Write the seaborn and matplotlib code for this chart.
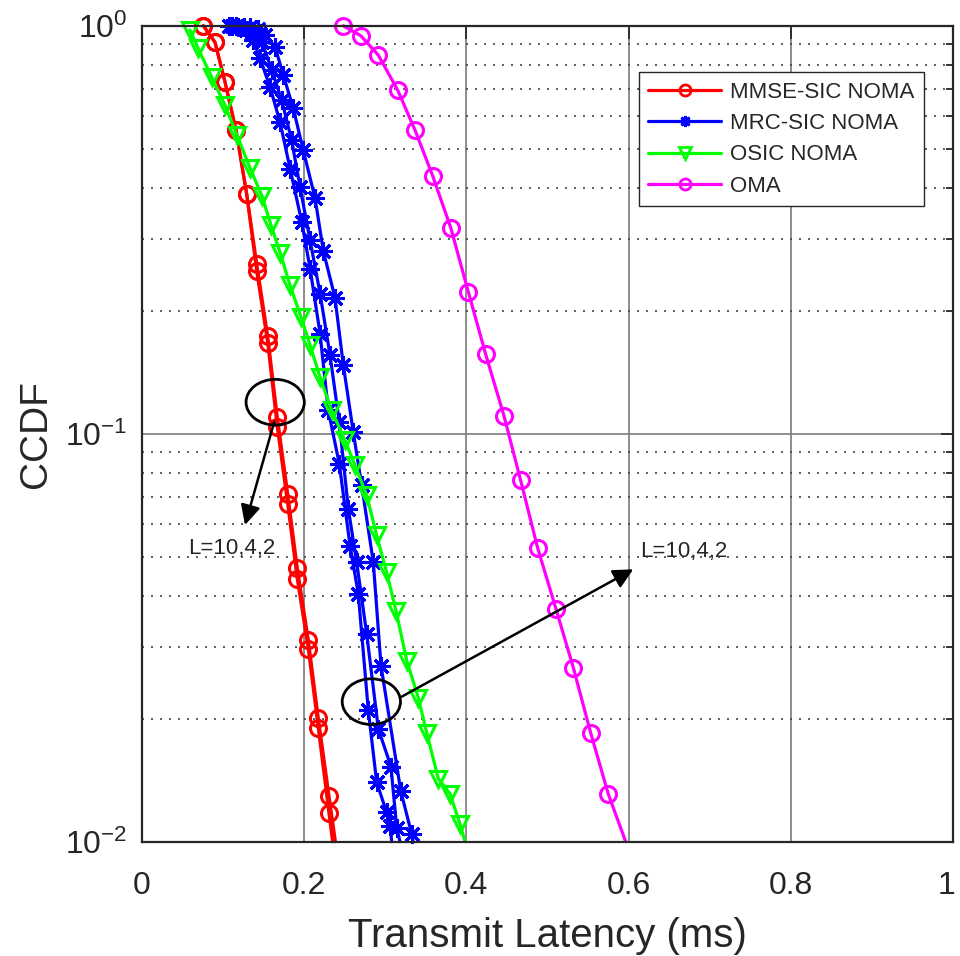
import matplotlib
matplotlib.use("Agg")
import matplotlib.pyplot as plt
import matplotlib.transforms as mtransforms
import seaborn as sns
from matplotlib.lines import Line2D
from matplotlib.patches import Ellipse
from matplotlib.ticker import LogLocator, FixedLocator

# MMSE-SIC NOMA (red), curves nearly overlap for L=10,4,2
mmse_x_a = [0.0759, 0.0903, 0.1026, 0.1162, 0.1294, 0.1417, 0.1553, 0.1671, 0.1799, 0.1917, 0.2053, 0.2176, 0.2308, 0.2387]
mmse_y_a = [1.0, 0.911, 0.729, 0.555, 0.3865, 0.2613, 0.1733, 0.1098, 0.0713, 0.0469, 0.03124, 0.0201, 0.01296, 0.01]
mmse_x_b = [0.0759, 0.0903, 0.1026, 0.1162, 0.1294, 0.1417, 0.1553, 0.1671, 0.1799, 0.1917, 0.2053, 0.2176, 0.2308, 0.2353]
mmse_y_b = [1.0, 0.911, 0.729, 0.555, 0.3865, 0.2506, 0.1669, 0.1038, 0.0673, 0.0441, 0.02969, 0.0190, 0.01173, 0.01]

# MRC-SIC NOMA (blue), L=10,4,2
mrc_x_a = [0.1076, 0.1187, 0.1285, 0.1372, 0.1458, 0.1581, 0.1704, 0.1828, 0.1972, 0.2075, 0.2198, 0.2299, 0.2435, 0.2567, 0.2669, 0.2792, 0.2896, 0.3019, 0.3060, 0.3081]
mrc_y_a = [1.0, 0.993, 0.976, 0.922, 0.832, 0.708, 0.581, 0.4467, 0.3305, 0.254, 0.1759, 0.1141, 0.0844, 0.0532, 0.0405, 0.02103, 0.01397, 0.01179, 0.01094, 0.01]
mrc_x_b = [0.1113, 0.1261, 0.1384, 0.1483, 0.1602, 0.1725, 0.1848, 0.1951, 0.2075, 0.2198, 0.2321, 0.2435, 0.2546, 0.2649, 0.2773, 0.2916, 0.3072, 0.3142, 0.3183]
mrc_y_b = [1.0, 0.993, 0.970, 0.912, 0.779, 0.657, 0.524, 0.4027, 0.2979, 0.2206, 0.1556, 0.1068, 0.0655, 0.0484, 0.0323, 0.0189, 0.01527, 0.01083, 0.01]
mrc_x_c = [0.1162, 0.1335, 0.1433, 0.1519, 0.1643, 0.1745, 0.1868, 0.1991, 0.2137, 0.2238, 0.2382, 0.2484, 0.2608, 0.2711, 0.2854, 0.2949, 0.3192, 0.3327, 0.3343]
mrc_y_c = [1.0, 0.993, 0.981, 0.949, 0.888, 0.757, 0.627, 0.4955, 0.3772, 0.2805, 0.2154, 0.1475, 0.1007, 0.0747, 0.0484, 0.0270, 0.01333, 0.01044, 0.01]

# OSIC NOMA (green)
osic_x = [0.0595, 0.0693, 0.0862, 0.1026, 0.1174, 0.1335, 0.1483, 0.1594, 0.1705, 0.1828, 0.1964, 0.2075, 0.2198, 0.2340,
          0.2505, 0.2629, 0.2773, 0.2896, 0.3019, 0.3134, 0.3266, 0.3409, 0.3512, 0.3655, 0.3799, 0.3922, 0.3984]
osic_y = [0.976, 0.882, 0.748, 0.639, 0.539, 0.448, 0.382, 0.324, 0.278, 0.231, 0.193, 0.1647, 0.1374, 0.1141,
          0.0963, 0.0836, 0.0706, 0.0563, 0.0457, 0.0368, 0.0278, 0.0225, 0.0185, 0.01427, 0.01311, 0.01106, 0.01]

# OMA (magenta)
oma_x = [0.2484, 0.2700, 0.2916, 0.3155, 0.3368, 0.3586, 0.3808, 0.4025, 0.4239, 0.4465, 0.4670, 0.4880, 0.5105, 0.5319, 0.5533, 0.5750, 0.5964]
oma_y = [1.0, 0.945, 0.847, 0.695, 0.555, 0.4285, 0.320, 0.2226, 0.1565, 0.1105, 0.0768, 0.0524, 0.0372, 0.0267, 0.01847, 0.01308, 0.01]

labels = ["MMSE-SIC NOMA", "MRC-SIC NOMA", "OSIC NOMA", "OMA"]
colors = ["#ff0000", "#0000ff", "#00ff00", "#ff00ff"]
markers = ["o", (8, 2, 0), "v", "o"]
msizes = [11.5, 13.5, 11, 11.5]
annot_text = "L=10,4,2"

sns.set_style("white")
plt.rcParams["font.family"] = ["Liberation Sans", "DejaVu Sans"]
plt.rcParams["axes.unicode_minus"] = False

fig = plt.figure(figsize=(9.6, 9.56), dpi=100)
ax = fig.add_axes([0.1476, 0.1196, 0.8453, 0.8535])

series = [
    (mmse_x_a, mmse_y_a, 0), (mmse_x_b, mmse_y_b, 0),
    (mrc_x_a, mrc_y_a, 1), (mrc_x_b, mrc_y_b, 1), (mrc_x_c, mrc_y_c, 1),
    (osic_x, osic_y, 2),
    (oma_x, oma_y, 3),
]
for xs, ys, k in series:
    sns.lineplot(x=xs, y=ys, ax=ax, color=colors[k], lw=2.3, marker=markers[k],
                 markersize=msizes[k], markerfacecolor="none", markeredgecolor=colors[k],
                 markeredgewidth=2.2, markevery=slice(0, len(xs) - 1),
                 sort=False, estimator=None, clip_on=False, zorder=3)

ax.set_yscale("log")
ax.set_xlim(0, 1)
ax.set_ylim(0.01, 1)
ax.set_xticks([0, 0.2, 0.4, 0.6, 0.8, 1.0])
ax.set_xticklabels(["0", "0.2", "0.4", "0.6", "0.8", "1"])
ax.yaxis.set_major_locator(FixedLocator([0.01, 0.1, 1]))
ax.yaxis.set_minor_locator(LogLocator(base=10, subs=range(2, 10)))

ax.set_axisbelow(True)
ax.grid(which="major", color="#7a7a7a", lw=1.2, ls="-")
ax.grid(which="minor", axis="y", color="#444444", lw=1.2, ls=(0, (1.2, 4.2)))

ax.tick_params(which="both", direction="in", top=True, right=True, labelsize=23, width=1.3, color="#262626")
ax.tick_params(which="major", length=9)
ax.tick_params(which="minor", length=5)
ax.tick_params(axis="x", which="major", pad=21)
ax.tick_params(axis="y", which="major", pad=10)
for s in ax.spines.values():
    s.set_linewidth(1.6)
    s.set_color("#262626")
    s.set_zorder(5)

ax.set_xlabel("Transmit Latency (ms)", fontsize=29, labelpad=12)
ax.set_ylabel("CCDF", fontsize=28, labelpad=8)

# keep the last x tick label inside the canvas
last = ax.get_xticklabels()[-1]
last.set_transform(last.get_transform() + mtransforms.ScaledTranslation(-5 / 72, 0, fig.dpi_scale_trans))

handles = [Line2D([], [], color=c, lw=2.3, marker=m, markersize=8, markerfacecolor="none",
                  markeredgecolor=c, markeredgewidth=2.0) for c, m in zip(colors, markers)]
ax.legend(handles, labels, loc="upper right", bbox_to_anchor=(0.964, 0.943), borderaxespad=0,
          fontsize=16, frameon=True, fancybox=False, edgecolor="#262626", framealpha=1,
          handlelength=3.3, handletextpad=0.4, labelspacing=0.47, borderpad=0.42)

# annotations
for cx, cy in [(0.1645, 0.5386), (0.283, 0.1716)]:
    ax.add_patch(Ellipse((cx, cy), 0.0718, 0.056, transform=ax.transAxes, fill=False,
                         ec="black", lw=2.0, zorder=6))
arrow = dict(arrowstyle="-|>", color="black", lw=1.8, mutation_scale=30, shrinkA=0, shrinkB=0)
ax.annotate("", xy=(0.1273, 0.3881), xytext=(0.1634, 0.5147), xycoords="axes fraction", arrowprops=arrow, zorder=6)
ax.annotate("", xy=(0.6058, 0.3338), xytext=(0.3204, 0.1777), xycoords="axes fraction", arrowprops=arrow, zorder=6)
ax.text(0.1109, 0.3599, annot_text, transform=ax.transAxes, fontsize=16, ha="center", va="center")
ax.text(0.614, 0.3554, annot_text, transform=ax.transAxes, fontsize=16, ha="left", va="center")

fig.savefig("out.png", dpi=100)
